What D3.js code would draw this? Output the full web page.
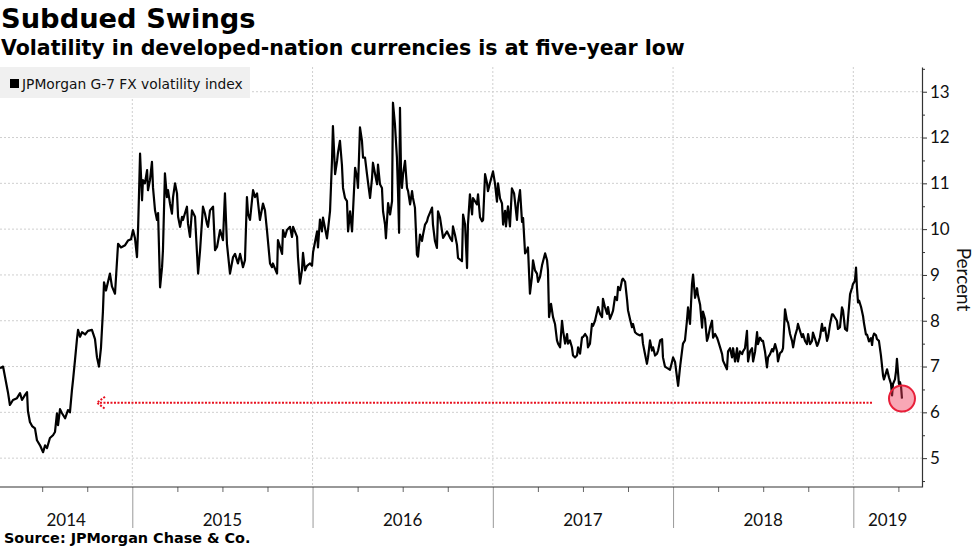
<!DOCTYPE html>
<html><head><meta charset="utf-8">
<script src="https://cdn.jsdelivr.net/npm/d3@7"></script>
<style>body{margin:0;background:#fff}svg{display:block}</style>
</head><body>
<svg id="c" width="977" height="549"></svg>
<script>
// Decimal-year dates and index values (percent)
const dates = [
2014.266,2014.283,2014.294,2014.310,2014.321,2014.338,2014.360,2014.377,2014.388,2014.405,
2014.416,2014.421,2014.432,2014.444,2014.460,2014.471,2014.488,2014.505,2014.516,2014.527,
2014.543,2014.560,2014.571,2014.582,2014.588,2014.599,2014.610,2014.627,2014.643,2014.654,
2014.665,2014.671,2014.682,2014.693,2014.699,2014.710,2014.721,2014.738,2014.754,2014.776,
2014.793,2014.804,2014.815,2014.826,2014.837,2014.843,2014.854,2014.876,2014.887,2014.904,
2014.921,2014.937,2014.960,2014.976,2014.993,2015.004,2015.015,2015.026,2015.032,2015.043,
2015.054,2015.059,2015.070,2015.082,2015.087,2015.098,2015.109,2015.115,2015.126,2015.137,
2015.143,2015.154,2015.165,2015.170,2015.181,2015.192,2015.198,2015.209,2015.220,2015.226,
2015.237,2015.248,2015.254,2015.265,2015.276,2015.281,2015.303,2015.309,2015.320,2015.331,
2015.348,2015.365,2015.376,2015.392,2015.403,2015.414,2015.420,2015.431,2015.448,2015.459,
2015.470,2015.487,2015.503,2015.514,2015.525,2015.542,2015.559,2015.570,2015.586,2015.598,
2015.614,2015.625,2015.636,2015.642,2015.653,2015.664,2015.670,2015.681,2015.692,2015.708,
2015.725,2015.736,2015.747,2015.764,2015.775,2015.780,2015.803,2015.808,2015.831,2015.836,
2015.847,2015.858,2015.875,2015.886,2015.892,2015.914,2015.919,2015.930,2015.941,2015.947,
2015.958,2015.969,2015.986,2015.997,2016.003,2016.025,2016.030,2016.041,2016.052,2016.058,
2016.080,2016.086,2016.097,2016.108,2016.113,2016.125,2016.136,2016.141,2016.152,2016.163,
2016.169,2016.180,2016.191,2016.197,2016.208,2016.219,2016.236,2016.247,2016.252,2016.263,
2016.274,2016.280,2016.291,2016.302,2016.308,2016.319,2016.330,2016.335,2016.347,2016.358,
2016.363,2016.374,2016.385,2016.391,2016.402,2016.407,2016.419,2016.430,2016.441,2016.446,
2016.457,2016.468,2016.474,2016.480,2016.485,2016.491,2016.496,2016.502,2016.513,2016.524,
2016.530,2016.541,2016.552,2016.557,2016.568,2016.579,2016.585,2016.596,2016.607,2016.613,
2016.624,2016.635,2016.640,2016.663,2016.668,2016.679,2016.690,2016.696,2016.707,2016.724,
2016.746,2016.763,2016.774,2016.779,2016.790,2016.801,2016.807,2016.829,2016.835,2016.846,
2016.857,2016.862,2016.873,2016.885,2016.890,2016.912,2016.918,2016.929,2016.940,2016.946,
2016.957,2016.968,2016.973,2016.984,2017.001,2017.012,2017.023,2017.029,2017.040,2017.051,
2017.057,2017.068,2017.073,2017.084,2017.095,2017.106,2017.118,2017.134,2017.140,2017.151,
2017.162,2017.168,2017.179,2017.190,2017.195,2017.206,2017.217,2017.223,2017.234,2017.245,
2017.251,2017.262,2017.273,2017.290,2017.301,2017.306,2017.312,2017.323,2017.334,2017.345,
2017.356,2017.362,2017.373,2017.384,2017.390,2017.401,2017.412,2017.417,2017.428,2017.439,
2017.445,2017.456,2017.467,2017.473,2017.484,2017.495,2017.500,2017.512,2017.523,2017.528,
2017.539,2017.550,2017.556,2017.567,2017.584,2017.595,2017.606,2017.611,2017.622,2017.634,
2017.639,2017.650,2017.661,2017.667,2017.678,2017.689,2017.695,2017.706,2017.717,2017.722,
2017.734,2017.745,2017.750,2017.761,2017.772,2017.778,2017.789,2017.800,2017.817,2017.828,
2017.833,2017.844,2017.855,2017.861,2017.872,2017.883,2017.889,2017.900,2017.911,2017.917,
2017.928,2017.939,2017.944,2017.955,2017.966,2017.983,2017.994,2018.000,2018.011,2018.022,
2018.028,2018.039,2018.050,2018.055,2018.066,2018.077,2018.083,2018.094,2018.105,2018.111,
2018.122,2018.133,2018.138,2018.150,2018.161,2018.166,2018.177,2018.188,2018.194,2018.205,
2018.216,2018.222,2018.233,2018.244,2018.250,2018.261,2018.272,2018.277,2018.299,2018.305,
2018.316,2018.327,2018.333,2018.344,2018.355,2018.360,2018.371,2018.383,2018.388,2018.399,
2018.410,2018.416,2018.427,2018.438,2018.444,2018.455,2018.466,2018.471,2018.482,2018.493,
2018.499,2018.510,2018.521,2018.527,2018.538,2018.549,2018.555,2018.566,2018.577,2018.582,
2018.593,2018.604,2018.610,2018.621,2018.632,2018.638,2018.649,2018.660,2018.666,2018.677,
2018.688,2018.693,2018.704,2018.715,2018.721,2018.732,2018.743,2018.749,2018.760,2018.771,
2018.776,2018.788,2018.799,2018.804,2018.815,2018.826,2018.832,2018.843,2018.854,2018.860,
2018.871,2018.882,2018.887,2018.898,2018.909,2018.915,2018.926,2018.937,2018.943,2018.954,
2018.965,2018.971,2018.982,2018.993,2018.998,2019.009,2019.015,2019.020,2019.026,2019.032,
2019.043,2019.054,2019.059,2019.070,2019.076,2019.087,2019.098,2019.104,2019.109,2019.115,
2019.126,2019.131,2019.142,2019.153,2019.165,2019.170,2019.181,2019.187,2019.198,2019.209,
2019.215,2019.220,2019.231,2019.237,2019.242,2019.253,2019.259,2019.265,2019.270
];
const values = [
6.96,7.0,6.77,6.44,6.16,6.27,6.31,6.42,6.27,6.38,
6.44,6.03,5.79,5.70,5.65,5.39,5.28,5.13,5.28,5.22,
5.44,5.50,5.57,5.98,5.72,6.07,5.98,5.87,6.05,6.00,
6.48,6.70,7.14,7.6,7.8,7.65,7.75,7.7,7.78,7.8,
7.6,7.2,7.0,7.4,8.2,8.84,8.66,9.03,8.75,8.59,
9.68,9.6,9.65,9.75,9.78,9.98,9.8,9.39,10.0,11.65,
10.63,11.07,11.0,11.29,10.85,11.07,11.47,10.9,10.41,10.2,
10.35,8.73,9.17,9.54,11.22,10.7,10.85,10.56,10.34,10.7,
11.0,10.78,10.27,10.05,10.27,10.2,10.49,10.12,9.83,10.41,
10.27,9.03,9.54,10.49,10.34,10.12,10.05,10.41,10.49,9.54,
9.61,9.98,9.76,10.78,9.68,9.03,9.39,9.46,9.25,9.46,
9.17,9.32,10.7,10.34,10.2,10.63,10.85,10.7,10.78,10.2,
10.56,10.41,9.98,9.25,9.17,9.25,9.03,9.76,9.46,9.98,
9.83,9.98,10.05,9.83,10.05,9.83,9.39,8.81,9.1,9.48,
9.1,9.2,9.25,9.2,9.5,9.95,9.6,10.21,9.95,10.25,
9.8,10.0,10.4,11.52,12.25,11.2,11.49,11.67,11.93,11.4,
10.9,10.68,10.61,9.95,10.39,9.95,11.34,11.12,10.9,12.22,
11.93,11.56,11.56,11.2,11.01,10.68,11.12,11.45,11.2,10.98,
11.41,10.98,10.9,10.39,10.1,9.8,10.57,10.32,10.61,12.76,
12.29,11.56,10.83,9.92,12.65,11.2,10.9,11.2,11.49,10.9,
10.83,10.54,10.83,10.68,10.47,9.44,9.4,9.88,9.74,9.88,
10.1,10.17,10.25,10.47,10.1,9.74,9.59,10.39,10.25,9.81,
9.95,9.81,9.74,10.06,9.88,9.66,9.37,9.3,10.32,10.1,
9.15,10.1,10.76,10.32,10.68,10.54,10.76,10.26,10.17,10.2,
11.2,11.0,10.83,11.0,11.26,11.0,10.6,11.0,10.67,10.56,
10.1,10.4,10.06,10.5,10.06,10.89,10.78,10.2,10.56,10.85,
10.16,10.24,9.47,9.54,9.6,8.59,8.96,9.32,9.1,9.03,
8.85,8.96,9.21,9.47,9.32,9.1,8.08,8.37,8.08,7.93,
7.57,7.5,7.42,8.0,7.78,7.5,7.71,7.5,7.57,7.42,
7.24,7.2,7.24,7.42,7.28,7.64,7.64,7.71,7.64,7.42,
7.5,7.93,7.89,8.0,8.3,8.15,8.08,8.48,8.3,8.15,
8.3,8.04,8.15,8.22,8.52,8.45,8.74,8.67,8.89,8.92,
8.85,8.45,8.23,8.04,7.86,7.93,7.75,7.71,7.68,7.71,
7.5,7.28,7.06,7.2,7.57,7.35,7.42,7.24,7.28,7.35,
7.57,7.6,7.2,7.0,6.97,6.93,7.1,7.2,7.1,6.76,
6.58,7.0,7.35,7.5,7.57,8.0,8.29,7.93,8.8,9.01,
8.5,8.71,8.56,8.35,7.85,8.2,8.05,7.56,7.63,7.85,
8.0,7.63,7.71,7.63,7.56,7.42,7.27,7.13,6.94,7.33,
7.4,7.2,7.4,7.11,7.4,7.11,7.33,7.27,7.33,7.4,
7.78,7.11,7.33,7.4,7.11,7.33,7.75,7.49,7.63,7.56,
7.56,7.33,6.98,7.2,7.27,7.38,7.33,7.49,7.33,7.11,
7.29,7.33,7.4,8.25,8.0,7.96,7.71,7.56,7.42,7.67,
7.82,7.93,7.78,7.64,7.71,7.56,7.49,7.71,7.49,7.56,
7.74,7.6,7.45,7.49,7.64,7.93,7.78,7.85,7.56,7.64,
7.93,8.14,8.14,8.07,8.0,7.82,7.86,8.29,8.22,7.82,
7.78,8.07,8.58,8.72,8.8,8.87,9.16,8.73,8.4,8.44,
8.3,8.1,7.95,7.7,7.7,7.55,7.62,7.47,7.65,7.72,
7.68,7.6,7.56,7.25,6.8,6.72,6.86,6.94,6.76,6.62,
6.37,6.62,6.72,6.9,7.17,6.62,6.66,6.55,6.3
];
const yTicks = [5,6,7,8,9,10,11,12,13];
const yMinorTicks = [4.5,5.5,6.5,7.5,8.5,9.5,10.5,11.5,12.5,13.5];
const yearBounds = [2015,2016,2017,2018,2019];
const yearLabels = [2014,2015,2016,2017,2018,2019];
const quarterTicks = [2014.5,2014.75,2015.25,2015.5,2015.75,2016.25,2016.5,2016.75,
                      2017.25,2017.5,2017.75,2018.25,2018.5,2018.75,2019.25];
const xDomain = [2014.266, 2019.381];
const yDomain = [4.37, 13.54];
const arrowLevel = 6.21, arrowFrom = 2014.804, arrowTo = 2019.109;

const titleText = "Subdued Swings";
const subtitleText = "Volatility in developed-nation currencies is at five-year low";
const legendText = "JPMorgan G-7 FX volatility index";
const sourceText = "Source: JPMorgan Chase & Co.";
const axisTitle = "Percent";

const svg = d3.select("#c");
const L = 0, R = 922, T = 67, B = 487;
const x = d3.scaleLinear().domain(xDomain).range([L, R]);
const y = d3.scaleLinear().domain(yDomain).range([B, T]);
const tickFont = "Lato, 'Open Sans', sans-serif";
const textFont = "'DejaVu Sans', Verdana, sans-serif";

// gridlines
svg.append("g").selectAll("line").data(yTicks).join("line")
  .attr("x1", L).attr("x2", R).attr("y1", d => y(d)).attr("y2", d => y(d))
  .attr("stroke", "#cfcfcf").attr("stroke-dasharray", "2,2");
svg.append("g").selectAll("line").data(yearBounds).join("line")
  .attr("x1", d => x(d)).attr("x2", d => x(d)).attr("y1", T).attr("y2", B)
  .attr("stroke", "#cfcfcf").attr("stroke-dasharray", "2,2");

// x axis: year boundary ticks and quarter ticks
const xMajor = svg.append("g").attr("transform", `translate(0,${B})`)
  .call(d3.axisBottom(x).tickValues(yearBounds).tickSize(41).tickFormat("").tickSizeOuter(0));
xMajor.select(".domain").remove();
xMajor.selectAll(".tick line").attr("stroke", "#999");
const xMinor = svg.append("g").attr("transform", `translate(0,${B})`)
  .call(d3.axisBottom(x).tickValues(quarterTicks).tickSize(5).tickFormat("").tickSizeOuter(0));
xMinor.select(".domain").remove();
xMinor.selectAll(".tick line").attr("stroke", "#666");
svg.append("line").attr("x1", L).attr("x2", R).attr("y1", B).attr("y2", B)
  .attr("stroke", "#333").attr("stroke-width", 1.2);

svg.append("g").selectAll("text").data(yearLabels).join("text")
  .attr("x", d => (x(Math.max(d, xDomain[0])) + x(Math.min(d + 1, xDomain[1]))) / 2)
  .attr("y", 526).attr("text-anchor", "middle")
  .attr("font-family", tickFont).attr("font-size", 17).attr("fill", "#111")
  .text(d => d);

// y axis on right
const yAx = svg.append("g").attr("transform", `translate(${R},0)`)
  .call(d3.axisRight(y).tickValues(yTicks).tickSize(5).tickPadding(3).tickSizeOuter(0));
yAx.select(".domain").attr("stroke", "#333").attr("stroke-width", 1.2);
yAx.selectAll(".tick line").attr("stroke", "#333");
yAx.selectAll(".tick text").attr("font-family", tickFont).attr("font-size", 17).attr("fill", "#111");
const yMin = svg.append("g").attr("transform", `translate(${R},0)`)
  .call(d3.axisRight(y).tickValues(yMinorTicks.filter(v => v > yDomain[0] && v < yDomain[1])).tickSize(3).tickFormat("").tickSizeOuter(0));
yMin.select(".domain").remove();
yMin.selectAll(".tick line").attr("stroke", "#333");

svg.append("text").attr("transform", `translate(957,${(y(9.7)+y(8.1))/2}) rotate(90)`)
  .attr("text-anchor", "middle").attr("font-family", tickFont).attr("font-size", 19)
  .attr("fill", "#111").text(axisTitle);

// annotation arrow
const ay = y(arrowLevel);
svg.append("line").attr("x1", x(arrowFrom) + 3).attr("x2", x(arrowTo)).attr("y1", ay).attr("y2", ay)
  .attr("stroke", "#e8101e").attr("stroke-width", 2).attr("stroke-dasharray", "2,1.5");
svg.append("path")
  .attr("d", `M${x(arrowFrom)+8},${ay-6} L${x(arrowFrom)},${ay} L${x(arrowFrom)+8},${ay+6}`)
  .attr("fill", "none").attr("stroke", "#e8101e").attr("stroke-width", 2).attr("stroke-dasharray", "2,1.5");

// series line
const pts = dates.map((d, i) => [d, values[i]]);
svg.append("path").datum(pts)
  .attr("d", d3.line().x(d => x(d[0])).y(d => y(d[1])))
  .attr("fill", "none").attr("stroke", "#000").attr("stroke-width", 2.2).attr("stroke-linejoin", "round");

// highlight circle on last point
const last = pts[pts.length - 1];
svg.append("circle").attr("cx", x(last[0])).attr("cy", y(last[1])).attr("r", 13)
  .attr("fill", "rgba(240,60,90,0.45)").attr("stroke", "#e8203a").attr("stroke-width", 2);

// legend
svg.append("rect").attr("x", 0).attr("y", 67).attr("width", 250).attr("height", 31).attr("fill", "#f0f0f0");
svg.append("rect").attr("x", 10).attr("y", 79).attr("width", 9).attr("height", 9).attr("fill", "#000");
svg.append("text").attr("x", 22).attr("y", 89).attr("font-family", textFont)
  .attr("font-size", 13.8).attr("fill", "#111").text(legendText);

// titles
svg.append("text").attr("x", 1).attr("y", 28).attr("font-family", textFont)
  .attr("font-weight", "bold").attr("font-size", 27.3).attr("fill", "#000").text(titleText);
svg.append("text").attr("x", 1).attr("y", 55).attr("font-family", textFont)
  .attr("font-weight", "bold").attr("font-size", 20.5).attr("fill", "#000").text(subtitleText);
svg.append("text").attr("x", 4).attr("y", 543).attr("font-family", textFont)
  .attr("font-weight", "bold").attr("font-size", 14.4).attr("fill", "#000").text(sourceText);
</script>
</body></html>
